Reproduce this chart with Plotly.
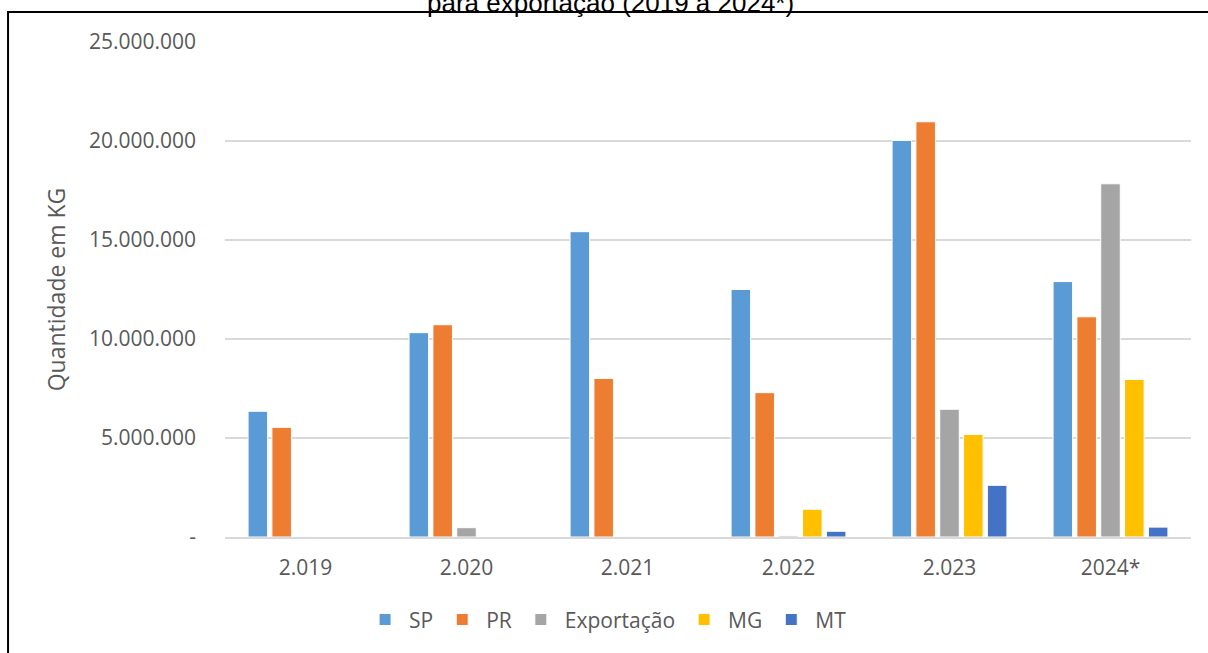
import plotly.graph_objects as go

anos = ["2.019", "2.020", "2.021", "2.022", "2.023", "2024*"]
sp = [6350000, 10320000, 15420000, 12500000, 20030000, 12900000]
pr = [5540000, 10720000, 8010000, 7290000, 20970000, 11120000]
exportacao = [20000, 470000, 20000, 60000, 6450000, 17840000]
mg = [0, 0, 0, 1400000, 5180000, 7960000]
mt = [0, 0, 0, 290000, 2610000, 500000]

series_names = ["SP", "PR", "Exportação", "MG", "MT"]
series_values = [sp, pr, exportacao, mg, mt]
colors = ["#5B9BD5", "#ED7D31", "#A5A5A5", "#FFC000", "#4472C4"]

y_tickvals = [0, 5000000, 10000000, 15000000, 20000000, 25000000]
y_ticktext = ["-", "5.000.000", "10.000.000", "15.000.000", "20.000.000", "25.000.000"]

fig = go.Figure()
for name, vals, col in zip(series_names, series_values, colors):
    fig.add_trace(go.Bar(
        x=anos, y=vals, name=name,
        marker=dict(color=col, line=dict(color="white", width=1)),
    ))

font_main = "Open Sans"
txt_color = "#595959"

fig.update_layout(
    width=1208, height=653,
    paper_bgcolor="white", plot_bgcolor="white",
    margin=dict(l=225, r=17, t=42, b=116),
    barmode="group", bargap=0.26, bargroupgap=0.18,
    font=dict(family=font_main, size=21, color=txt_color),
    showlegend=True,
    legend=dict(
        orientation="h", x=0.395, xanchor="center",
        y=-0.126, yanchor="top",
        font=dict(family=font_main, size=21, color=txt_color),
        itemwidth=38, traceorder="normal",
    ),
    xaxis=dict(
        showgrid=False, showline=True, linecolor="#D9D9D9", linewidth=1.5,
        ticks="", ticklabelstandoff=11, tickfont=dict(size=21, color=txt_color),
    ),
    yaxis=dict(
        range=[0, 25000000], tickvals=y_tickvals, ticktext=y_ticktext,
        showgrid=True, gridcolor="#D9D9D9", gridwidth=1.5,
        zeroline=False, showline=False, ticks="",
        ticklabelstandoff=28,
        tickfont=dict(size=21, color=txt_color),
        title=dict(text="Quantidade em KG", font=dict(size=23, color=txt_color), standoff=16),
    ),
    annotations=[dict(
        text="para exportação (2019 a 2024*)",
        xref="paper", yref="paper", x=0.399, y=1, xanchor="center", yanchor="bottom",
        yshift=22, showarrow=False,
        font=dict(family="Liberation Sans", size=26, color="black"),
    )],
    shapes=[dict(
        type="rect", xref="paper", yref="paper",
        x0=-0.2246, x1=1.5, y0=-0.6, y1=1.0606,
        line=dict(color="black", width=2), fillcolor="rgba(0,0,0,0)", layer="above",
    )],
)

fig.write_html(
    "out.html",
    config={"displayModeBar": False},
    post_script="document.body.style.margin='0';document.body.style.overflow='hidden';",
)
